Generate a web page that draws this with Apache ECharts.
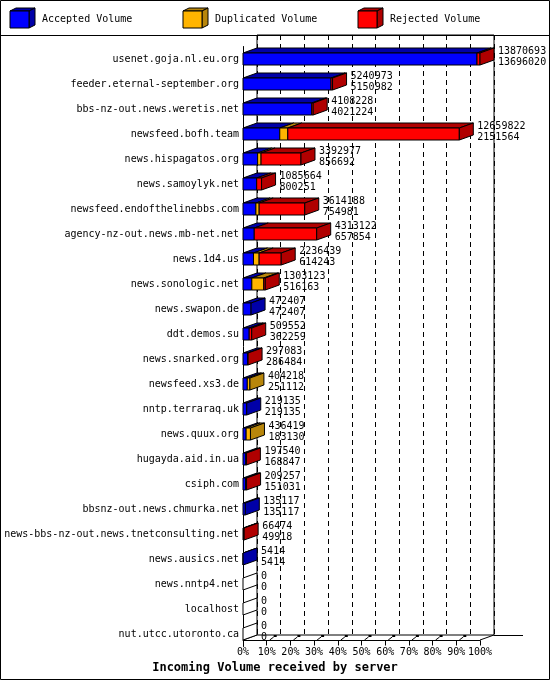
<!DOCTYPE html>
<html lang="en">
  <head>
    <meta charset="UTF-8" />
    <title>Incoming Volume received by server</title>
    <script src="https://cdn.jsdelivr.net/npm/echarts@6.0.0/dist/echarts.min.js"></script>
    <style>
      html, body { margin: 0; padding: 0; background: #fff; }
    </style>
  </head>
  <body>
    <div id="volume" style="width: 550px; height: 680px"></div>

    <script type="text/javascript">
      // Servers, top to bottom
      const servers = [
        "usenet.goja.nl.eu.org",
        "feeder.eternal-september.org",
        "bbs-nz-out.news.weretis.net",
        "newsfeed.bofh.team",
        "news.hispagatos.org",
        "news.samoylyk.net",
        "newsfeed.endofthelinebbs.com",
        "agency-nz-out.news.mb-net.net",
        "news.1d4.us",
        "news.sonologic.net",
        "news.swapon.de",
        "ddt.demos.su",
        "news.snarked.org",
        "newsfeed.xs3.de",
        "nntp.terraraq.uk",
        "news.quux.org",
        "hugayda.aid.in.ua",
        "csiph.com",
        "bbsnz-out.news.chmurka.net",
        "news-bbs-nz-out.news.tnetconsulting.net",
        "news.ausics.net",
        "news.nntp4.net",
        "localhost",
        "nut.utcc.utoronto.ca",
      ];

      // Printed numbers (top line = total, bottom line = accepted)
      const totalVolume = [
        13870693, 5240973, 4108228, 12659822, 3392977, 1085664, 3614188, 4313122,
        2236439, 1303123, 472407, 509552, 297083, 404218, 219135, 436419,
        197540, 209257, 135117, 66474, 5414, 0, 0, 0,
      ];
      const acceptedVolume = [
        13696020, 5150982, 4021224, 2151564, 856692, 800251, 754981, 657854,
        614243, 516163, 472407, 362259, 286484, 251112, 219135, 183130,
        168847, 151031, 135117, 49918, 5414, 0, 0, 0,
      ];
      // Estimated from the bar segments
      const duplicatedVolume = [
        0, 0, 0, 470000, 200000, 0, 190000, 0,
        330000, 700000, 0, 0, 0, 153106, 0, 253289,
        0, 0, 0, 0, 0, 0, 0, 0,
      ];
      const rejectedVolume = [
        174673, 89991, 87004, 10038258, 2336285, 285413, 2669207, 3655268,
        1292196, 86960, 0, 147293, 10599, 0, 0, 0,
        28693, 58226, 0, 16556, 0, 0, 0, 0,
      ];

      const floorTicks = [0, 10, 20, 30, 40, 50, 60, 70, 80, 90, 100];

      const FONT = "DejaVu Sans Mono";
      const front = ["#0000ff", "#ffb400", "#ff0000"];
      const shade = ["#0000a8", "#b8860b", "#b00000"];
      const DX = 14, DY = 5, HALF = 6;

      const maxTotal = Math.max(...totalVolume);
      const pct = (v) => (v / maxTotal) * 100;

      const barData = servers.map((s, i) => [
        i,
        pct(acceptedVolume[i]),
        pct(duplicatedVolume[i]),
        pct(rejectedVolume[i]),
        totalVolume[i],
        acceptedVolume[i],
      ]);

      const edge = { stroke: "#000", lineWidth: 1 };

      // 3D stacked bar: front faces, top faces, one side face at the end
      function renderBar(params, api) {
        const i = api.value(0);
        const yc = api.coord([0, i])[1];
        const children = [];
        let start = 0;
        let xEnd = api.coord([0, i])[0];
        let last = -1;
        for (let k = 0; k < 3; k++) {
          const v = api.value(k + 1);
          if (v <= 0) continue;
          const x0 = api.coord([start, i])[0];
          start += v;
          const x1 = api.coord([start, i])[0];
          children.push({
            type: "polygon",
            shape: { points: [[x0, yc - HALF], [x1, yc - HALF], [x1 + DX, yc - HALF - DY], [x0 + DX, yc - HALF - DY]] },
            style: Object.assign({ fill: shade[k] }, edge),
          });
          children.push({
            type: "rect",
            shape: { x: x0, y: yc - HALF, width: x1 - x0, height: HALF * 2 },
            style: Object.assign({ fill: front[k] }, edge),
          });
          xEnd = x1;
          last = k;
        }
        children.push({
          type: "polygon",
          shape: { points: [[xEnd, yc - HALF], [xEnd + DX, yc - HALF - DY], [xEnd + DX, yc + HALF - DY], [xEnd, yc + HALF]] },
          style: Object.assign({ fill: last >= 0 ? shade[last] : "#fff" }, edge),
        });
        const lx = xEnd + DX + 4;
        [[api.value(4), yc - 8], [api.value(5), yc + 3]].forEach(([t, y]) => {
          children.push({
            type: "text",
            style: {
              text: String(t), x: lx, y: y, fill: "#000",
              font: "10px '" + FONT + "'",
              align: "left", verticalAlign: "middle",
              textAlign: "left", textVerticalAlign: "middle",
            },
          });
        });
        return { type: "group", children: children };
      }

      // little 3D ticks on the floor
      function renderFloor(params, api) {
        const v = api.value(0);
        const p = api.coord([v, servers.length - 1]);
        const y = p[1] + HALF;
        if (v === 0 || v === 100) {
          return { type: "line", shape: { x1: p[0], y1: y, x2: p[0] + DX, y2: y - DY }, style: edge };
        }
        return {
          type: "group",
          children: [
            { type: "line", shape: { x1: p[0] + 3, y1: y, x2: p[0] + 7, y2: y - 3 }, style: edge },
            { type: "rect", shape: { x: p[0] + 7, y: y - 5, width: 3, height: 2 }, style: { fill: "#000" } },
          ],
        };
      }

      function legendCube(x, k, label) {
        const y = 11, w = 19, h = 17, dx = 6, dy = 3;
        return [
          { type: "polygon", shape: { points: [[x, y], [x + w, y], [x + w + dx, y - dy], [x + dx, y - dy]] }, style: Object.assign({ fill: shade[k] }, edge) },
          { type: "polygon", shape: { points: [[x + w, y], [x + w + dx, y - dy], [x + w + dx, y + h - dy], [x + w, y + h]] }, style: Object.assign({ fill: shade[k] }, edge) },
          { type: "rect", shape: { x: x, y: y, width: w, height: h }, style: Object.assign({ fill: front[k] }, edge) },
          { type: "text", left: x + 32, top: 14, style: { text: label, fill: "#000", font: "10px '" + FONT + "'" } },
        ];
      }

      const chart = echarts.init(document.getElementById("volume"));

      chart.setOption({
        animation: false,
        backgroundColor: "#fff",
        title: {
          text: "Incoming Volume received by server",
          left: "center",
          top: 657,
          textStyle: { fontFamily: FONT, fontSize: 12, fontWeight: "bold", color: "#000" },
        },
        graphic: [
          { type: "rect", shape: { x: 0.5, y: 0.5, width: 549, height: 679 }, style: { fill: "none", stroke: "#000", lineWidth: 1 }, z: 100 },
          { type: "line", shape: { x1: 0, y1: 35.5, x2: 550, y2: 35.5 }, style: edge },
          { type: "line", shape: { x1: 494, y1: 635.5, x2: 523, y2: 635.5 }, style: edge },
          ...legendCube(10, 0, "Accepted Volume"),
          ...legendCube(183, 1, "Duplicated Volume"),
          ...legendCube(358, 2, "Rejected Volume"),
        ],
        grid: [
          { left: 243, right: 70, top: 46.5, bottom: 33.5, containLabel: false, outerBoundsMode: "none" },
          {
            left: 257, right: 56, top: 35, bottom: 45, containLabel: false, outerBoundsMode: "none",
            show: true, borderColor: "#000", borderWidth: 1, backgroundColor: "transparent",
          },
        ],
        xAxis: [
          {
            gridIndex: 0, type: "value", min: 0, max: 100, interval: 10, offset: -6,
            axisLine: { show: true, lineStyle: { color: "#000", width: 1 } },
            axisTick: { show: true, length: 5, lineStyle: { color: "#000" } },
            axisLabel: { formatter: "{value}%", fontFamily: FONT, fontSize: 10, color: "#000", margin: 7 },
            splitLine: { show: false },
          },
          {
            gridIndex: 1, type: "value", min: 0, max: 100, interval: 10,
            axisLine: { show: false }, axisTick: { show: false }, axisLabel: { show: false },
            splitLine: { show: true, lineStyle: { color: "#000", type: [5, 4], width: 1 } },
          },
        ],
        yAxis: [
          {
            gridIndex: 0, type: "category", inverse: true, data: servers,
            axisLine: { show: true, lineStyle: { color: "#000", width: 1 } },
            axisTick: { show: false },
            axisLabel: { fontFamily: FONT, fontSize: 10, color: "#000", margin: 4, interval: 0 },
            splitLine: { show: false },
          },
          {
            gridIndex: 1, type: "category", inverse: true, data: servers, show: false,
          },
        ],
        series: [
          {
            name: "Volume", type: "custom", xAxisIndex: 0, yAxisIndex: 0,
            renderItem: renderBar, data: barData, encode: { x: [1], y: 0 }, clip: false, z: 5,
          },
          {
            name: "Floor", type: "custom", xAxisIndex: 0, yAxisIndex: 0,
            renderItem: renderFloor, data: floorTicks.map((v) => [v]), encode: { x: 0 }, clip: false, z: 4,
          },
        ],
      });
    </script>
  </body>
</html>
